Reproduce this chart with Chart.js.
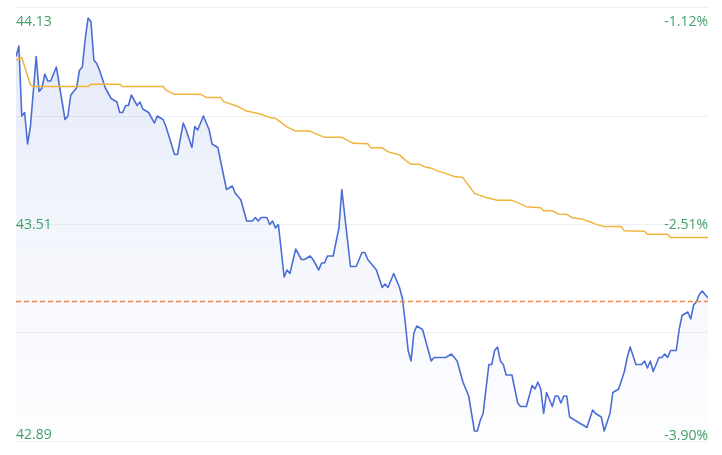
<!DOCTYPE html>
<html>
<head>
<meta charset="utf-8">
<script src="https://cdn.jsdelivr.net/npm/chart.js@4/dist/chart.umd.min.js"></script>
<style>
  html, body { margin: 0; padding: 0; background: #ffffff; }
  canvas { display: block; }
</style>
</head>
<body>
<canvas id="c" width="722" height="455"></canvas>
<script>
// ---- data (minute index of the session, price) ----
const priceMinutes = [0,1,2,3,4,5,7,8,9,10,11,12,14,15,17,18,19,20,21,22,23,24,25,26,27,28,29,31,33,35,36,37,38,39,40,42,43,44,46,48,49,51,52,55,56,58,59,61,62,63,65,67,68,70,71,73,75,76,78,80,82,83,84,85,87,88,89,90,91,93,94,95,97,99,100,102,103,105,106,107,108,110,112,113,116,117,118,120,121,122,123,124,125,127,128,129,131,133,134,135,136,137,138,139,141,142,144,145,149,151,152,153,155,157,159,160,161,162,164,165,166,167,168,169,170,172,174,175,177,179,180,181,182,183,184,186,187,188,189,190,191,192,194,196,198,200,201,203,204,206,207,209,211,212,213,215,217,218,219,220,221,223,224,225,226,227,229,230,231,233,234,235,236,237,238,240];
const prices = [43.99,44.02,43.82,43.83,43.74,43.79,43.99,43.89,43.90,43.94,43.92,43.92,43.96,43.91,43.81,43.82,43.88,43.89,43.90,43.95,43.96,44.04,44.10,44.09,43.98,43.97,43.95,43.90,43.87,43.86,43.83,43.83,43.85,43.85,43.88,43.85,43.86,43.84,43.83,43.80,43.82,43.81,43.79,43.71,43.71,43.80,43.78,43.73,43.79,43.78,43.82,43.78,43.74,43.73,43.69,43.61,43.62,43.60,43.58,43.52,43.52,43.53,43.52,43.53,43.53,43.51,43.52,43.50,43.51,43.36,43.38,43.37,43.44,43.41,43.41,43.42,43.41,43.38,43.40,43.40,43.42,43.42,43.50,43.61,43.39,43.39,43.39,43.43,43.43,43.41,43.40,43.39,43.38,43.33,43.34,43.33,43.37,43.33,43.30,43.23,43.15,43.12,43.20,43.22,43.21,43.18,43.12,43.13,43.13,43.14,43.13,43.12,43.06,43.02,42.92,42.92,42.95,42.97,43.11,43.11,43.15,43.16,43.12,43.11,43.08,43.08,43.00,42.99,42.99,43.05,43.04,43.06,43.04,42.97,43.03,42.99,43.02,43.02,43.00,43.02,43.02,42.96,42.95,42.94,42.93,42.98,42.97,42.96,42.92,42.97,43.03,43.04,43.09,43.13,43.16,43.11,43.11,43.12,43.10,43.12,43.09,43.13,43.13,43.14,43.13,43.15,43.15,43.21,43.25,43.26,43.24,43.28,43.29,43.31,43.32,43.30];

const avgMinutes = [0,2,5,6,25,26,36,37,51,52,55,64,66,71,72,75,77,80,82,85,88,90,94,97,102,104,107,113,117,122,123,127,129,133,135,137,140,142,144,146,149,152,155,159,163,167,172,175,177,182,183,186,188,191,193,196,199,201,204,210,211,218,219,226,227,240];
const avgPrices = [43.980,43.987,43.909,43.904,43.904,43.911,43.911,43.904,43.904,43.894,43.882,43.882,43.873,43.873,43.861,43.853,43.847,43.834,43.831,43.825,43.816,43.813,43.789,43.777,43.777,43.769,43.759,43.759,43.742,43.741,43.729,43.729,43.718,43.709,43.694,43.682,43.682,43.674,43.671,43.664,43.656,43.647,43.644,43.599,43.587,43.579,43.579,43.569,43.561,43.558,43.549,43.549,43.540,43.539,43.529,43.526,43.518,43.511,43.504,43.504,43.492,43.491,43.482,43.482,43.473,43.473];

const refPrice = 43.29;
const sessionMinutes = [0, 240];

const gridPrices = [42.89, 43.20, 43.51, 43.82, 44.13];
const labelPrices = [44.13, 43.51, 42.89];
const priceLabels = ['44.13', '43.51', '42.89'];
const pctLabels = ['-1.12%', '-2.51%', '-3.90%'];

// ---- chart ----
const toPoints = (xs, ys) => xs.map((x, i) => ({ x: x, y: ys[i] }));

const axisLabelPlugin = {
  id: 'axisLabels',
  afterDatasetsDraw(chart) {
    const { ctx, chartArea, scales } = chart;
    const y = scales.y;
    ctx.save();
    ctx.font = '14px "Open Sans", "Noto Sans", sans-serif';
    ctx.fillStyle = '#3f9f66';
    ctx.textBaseline = 'alphabetic';
    labelPrices.forEach((v, i) => {
      const py = y.getPixelForValue(v);
      let base;
      if (i === 0) base = py + 18;
      else if (i === labelPrices.length - 1) base = py - 2.5;
      else base = py + 4;
      ctx.textAlign = 'left';
      ctx.fillText(priceLabels[i], chartArea.left, base);
      ctx.textAlign = 'right';
      ctx.fillText(pctLabels[i], chartArea.right, base + 0.5);
    });
    ctx.restore();
  }
};

const ctx = document.getElementById('c').getContext('2d');
new Chart(ctx, {
  type: 'line',
  data: {
    datasets: [
      {
        label: 'ref',
        data: toPoints(sessionMinutes, sessionMinutes.map(() => refPrice)),
        borderColor: '#f0863f',
        borderWidth: 1.6,
        borderDash: [5, 3],
        pointRadius: 0,
        fill: false,
        order: 1
      },
      {
        label: 'avg',
        data: toPoints(avgMinutes, avgPrices),
        borderColor: '#f2b33d',
        borderWidth: 1.5,
        pointRadius: 0,
        fill: false,
        order: 2
      },
      {
        label: 'price',
        data: toPoints(priceMinutes, prices),
        borderColor: '#4a6ed6',
        borderWidth: 1.6,
        pointRadius: 0,
        tension: 0,
        fill: 'start',
        backgroundColor: (c) => {
          const area = c.chart.chartArea;
          if (!area) return 'rgba(74,110,214,0.08)';
          const g = c.chart.ctx.createLinearGradient(0, area.top, 0, area.bottom);
          g.addColorStop(0, 'rgba(74,110,214,0.16)');
          g.addColorStop(0.5, 'rgba(74,110,214,0.065)');
          g.addColorStop(1, 'rgba(74,110,214,0.01)');
          return g;
        },
        order: 3
      }
    ]
  },
  options: {
    responsive: false,
    animation: false,
    devicePixelRatio: 1,
    layout: { padding: { left: 16, right: 14, top: 7.5, bottom: 13.5 } },
    plugins: { legend: { display: false }, tooltip: { enabled: false } },
    elements: { line: { borderJoinStyle: 'round' } },
    scales: {
      x: { type: 'linear', min: 0, max: 240, display: false },
      y: {
        type: 'linear',
        min: 42.89,
        max: 44.13,
        afterBuildTicks: (s) => { s.ticks = gridPrices.map(v => ({ value: v })); },
        ticks: { display: false },
        grid: { color: '#efefef', lineWidth: 1, drawTicks: false },
        border: { display: false }
      }
    }
  },
  plugins: [axisLabelPlugin]
});
</script>
</body>
</html>
